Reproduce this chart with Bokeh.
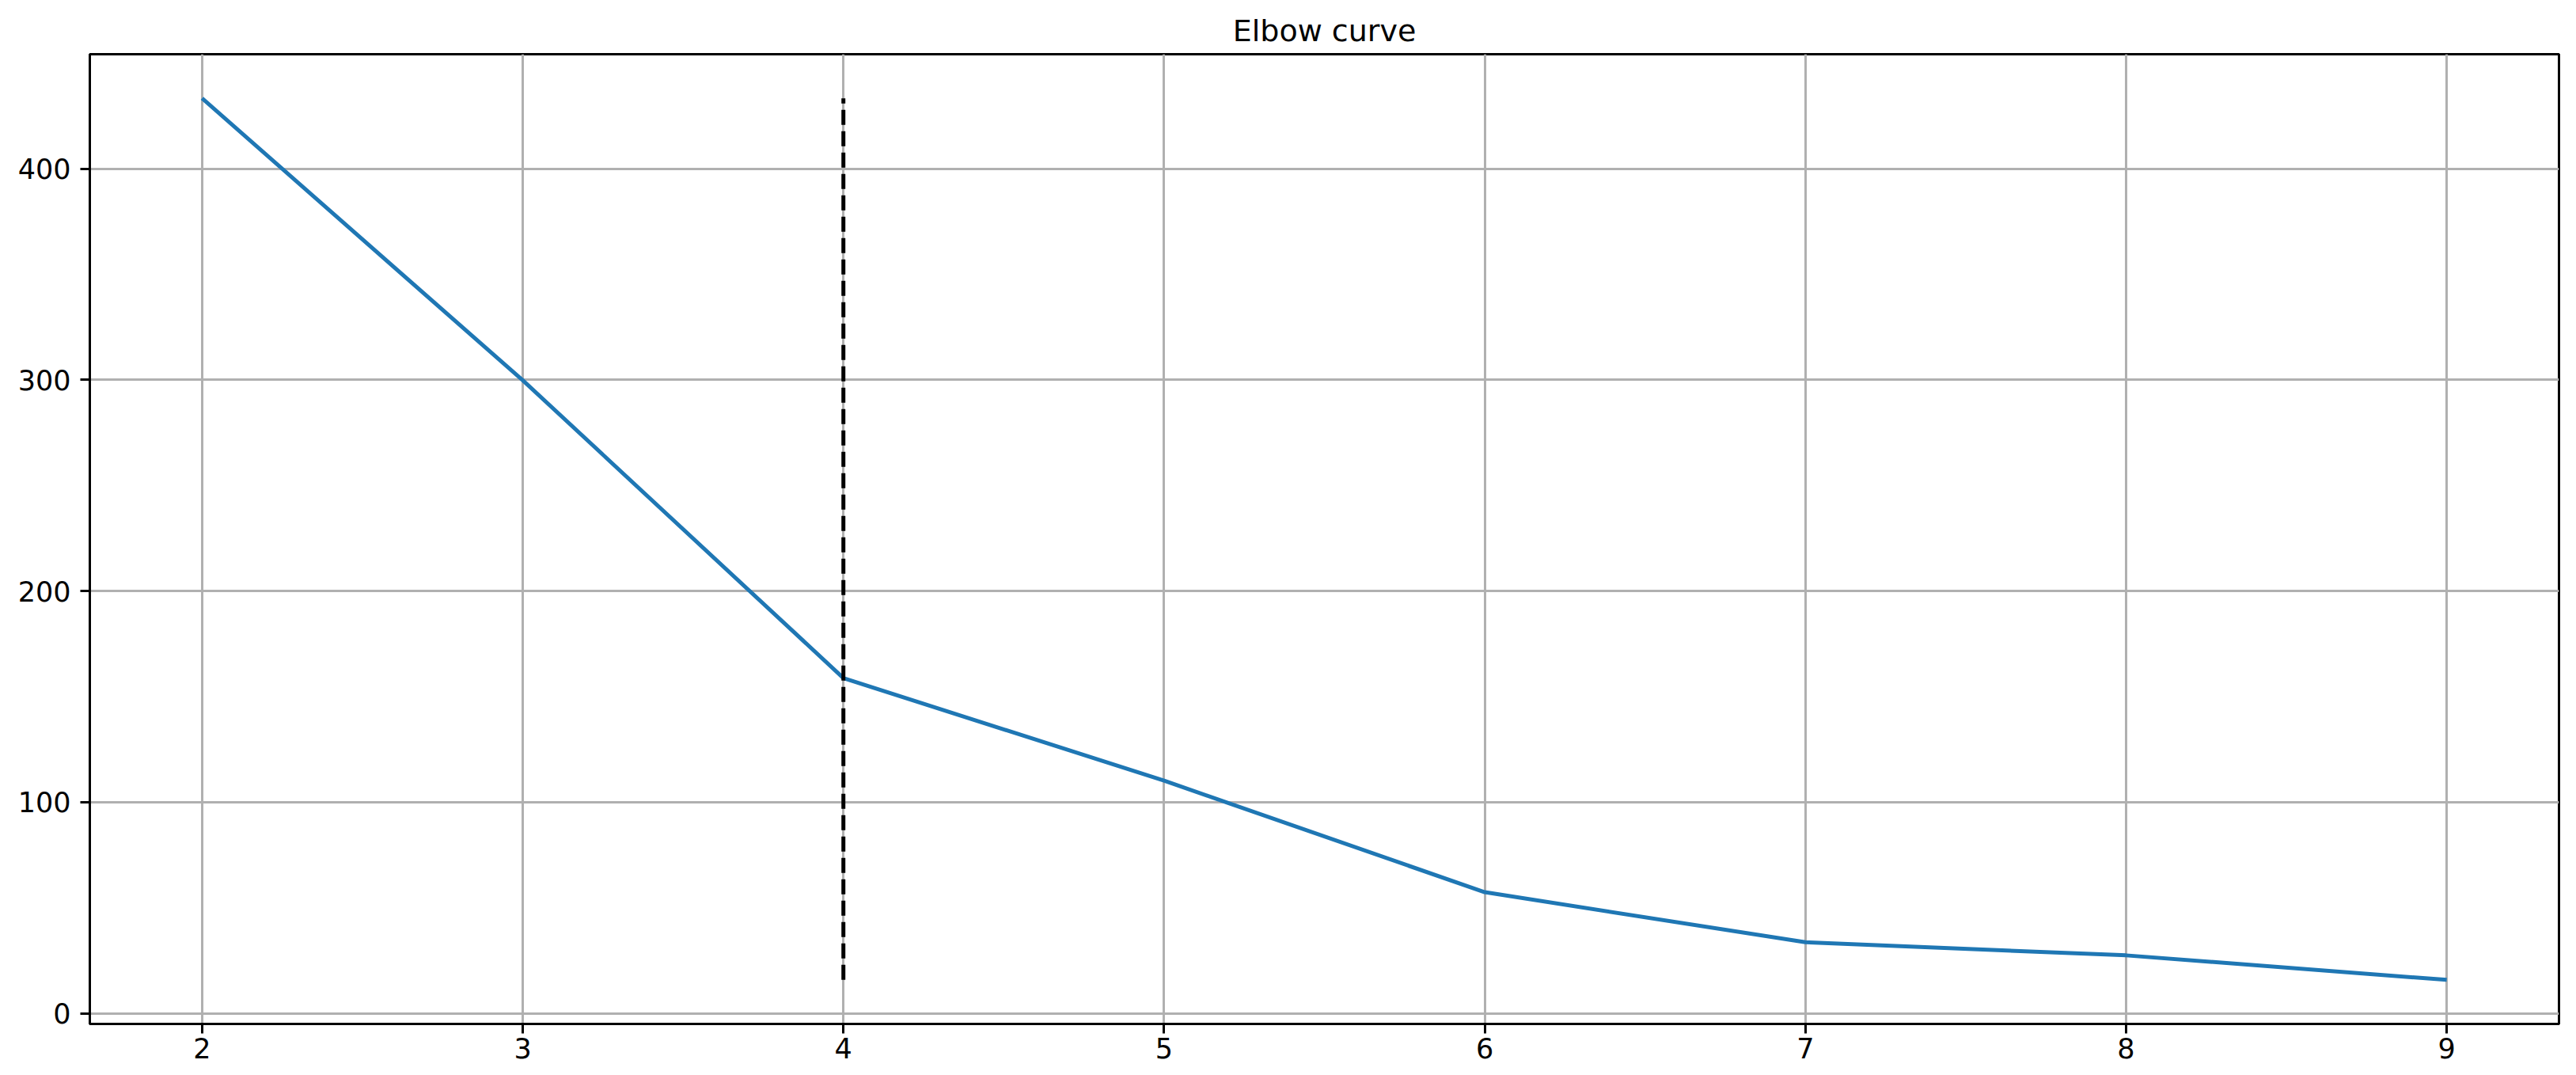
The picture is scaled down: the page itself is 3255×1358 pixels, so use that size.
from bokeh.plotting import figure
from bokeh.models import Range1d, FixedTicker
from bokeh.embed import file_html
from bokeh.resources import INLINE

# Data
k_values = [2, 3, 4, 5, 6, 7, 8, 9]
inertia = [433.3, 299.8, 158.8, 110.2, 57.4, 33.7, 27.5, 15.9]
elbow_k = [4]
x_ticks = [2, 3, 4, 5, 6, 7, 8, 9]
y_ticks = [0, 100, 200, 300, 400]
title_text = "Elbow curve"

FONT = "DejaVu Sans"

xmin, xmax = min(k_values), max(k_values)
ymin, ymax = min(inertia), max(inertia)
xpad = 0.05 * (xmax - xmin)
ypad = 0.05 * (ymax - ymin)

p = figure(
    width=3247, height=1350,
    output_backend="svg", toolbar_location=None,
    x_range=Range1d(xmin - xpad, xmax + xpad),
    y_range=Range1d(ymin - ypad, ymax + ypad),
    min_border_left=113, min_border_right=14,
    min_border_top=68, min_border_bottom=57,
)
p.background_fill_color = "white"
p.border_fill_color = "white"
p.outline_line_color = "black"
p.outline_line_width = 3

p.title.text = title_text
p.title.align = "center"
p.title.text_font = FONT
p.title.text_font_size = "38px"
p.title.text_font_style = "normal"
p.title.text_color = "black"
p.title.standoff = 16

for ax in (p.xaxis[0], p.yaxis[0]):
    ax.axis_line_color = "black"
    ax.axis_line_width = 3
    ax.major_tick_line_color = "black"
    ax.major_tick_line_width = 3
    ax.major_tick_out = 12
    ax.major_tick_in = 0
    ax.minor_tick_line_color = None
    ax.major_label_text_font = FONT
    ax.major_label_text_font_size = "35px"
    ax.major_label_text_color = "black"

p.xaxis[0].ticker = FixedTicker(ticks=x_ticks)
p.yaxis[0].ticker = FixedTicker(ticks=y_ticks)
p.xaxis[0].major_label_standoff = 5
p.yaxis[0].major_label_standoff = 12

p.xgrid[0].ticker = FixedTicker(ticks=x_ticks)
p.ygrid[0].ticker = FixedTicker(ticks=y_ticks)
for g in (p.xgrid[0], p.ygrid[0]):
    g.grid_line_color = "#b0b0b0"
    g.grid_line_width = 3
    g.grid_line_alpha = 1.0

p.line(k_values, inertia, line_color="#1f77b4", line_width=5)
p.segment(x0=elbow_k, y0=[ymin], x1=elbow_k, y1=[ymax],
          line_color="black", line_width=5, line_dash="19 8")

open("out.html", "w").write(file_html(p, INLINE))
